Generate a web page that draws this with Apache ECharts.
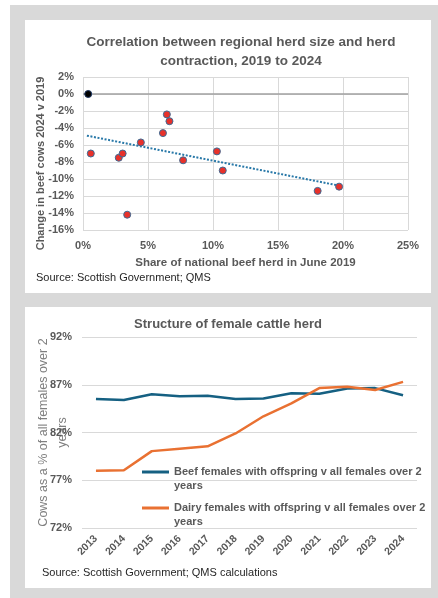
<!DOCTYPE html>
<html><head><meta charset="utf-8">
<script src="https://cdn.jsdelivr.net/npm/echarts@6/dist/echarts.min.js"></script>
<style>html,body{margin:0;padding:0;background:#fff}#c{width:438px;height:598px}</style>
</head><body><div id="c"></div>
<script>
// ---- Top chart data ----
const shareX = [0.6, 2.75, 3.05, 4.45, 3.4, 6.15, 6.45, 6.65, 7.7, 10.3, 10.75, 18.05, 19.7];
const changeY = [-7.0, -7.5, -7.0, -5.7, -14.2, -4.6, -2.4, -3.2, -7.8, -6.75, -9.0, -11.4, -10.9];
const nationalX = [0.4];
const nationalY = [0];
const trendX = [0.3, 19.6];
const trendY = [-4.9, -10.75];
// ---- Bottom chart data ----
const years = ['2013','2014','2015','2016','2017','2018','2019','2020','2021','2022','2023','2024'];
const beefShare = [85.5, 85.4, 86.0, 85.8, 85.85, 85.5, 85.55, 86.1, 86.05, 86.6, 86.65, 85.9];
const dairyShare = [78.0, 78.05, 80.05, 80.3, 80.55, 81.9, 83.7, 85.05, 86.65, 86.8, 86.45, 87.3];
const beefName = 'Beef females with offspring v all females over 2 years';
const dairyName = 'Dairy females with offspring v all females over 2 years';

const FONT = 'Liberation Sans';
const GRAY = '#595959';
const GRID = '#d9d9d9';
const zip = (a, b) => a.map((v, i) => [v, b[i]]);

const chart = echarts.init(document.getElementById('c'));
const legendBase = {
  orient: 'vertical', padding: 0, itemWidth: 27, itemHeight: 3, icon: 'rect',
  formatter: n => ' \n' + n.replace(' over 2 years', ' over 2\nyears'),
  textStyle: {fontFamily: FONT, fontWeight: 'bold', color: GRAY, fontSize: 11, lineHeight: 14}
};
chart.setOption({
  animation: false,
  textStyle: {fontFamily: FONT},
  graphic: [
    {type: 'rect', z: -100, silent: true, shape: {x: 10, y: 5, width: 428, height: 593}, style: {fill: '#d9d9d9'}},
    {type: 'rect', z: -99, silent: true, shape: {x: 25, y: 20, width: 406, height: 273}, style: {fill: '#ffffff'}},
    {type: 'rect', z: -99, silent: true, shape: {x: 25, y: 307, width: 406, height: 281}, style: {fill: '#ffffff'}}
  ],
  title: [
    {text: 'Correlation between regional herd size and herd\ncontraction, 2019 to 2024', left: 241, top: 33, textAlign: 'center', padding: 0,
     textStyle: {fontFamily: FONT, fontSize: 13.5, fontWeight: 'bold', color: GRAY, lineHeight: 19}},
    {text: 'Source: Scottish Government; QMS', left: 36, top: 272, padding: 0,
     textStyle: {fontFamily: FONT, fontSize: 11, fontWeight: 'normal', color: '#262626'}},
    {text: 'Structure of female cattle herd', left: 228, top: 318, textAlign: 'center', padding: 0,
     textStyle: {fontFamily: FONT, fontSize: 13, fontWeight: 'bold', color: GRAY}},
    {text: 'Source: Scottish Government; QMS calculations', left: 42, top: 567, padding: 0,
     textStyle: {fontFamily: FONT, fontSize: 11, fontWeight: 'normal', color: '#262626'}}
  ],
  legend: [
    Object.assign({}, legendBase, {data: [beefName], left: 142, top: 451}),
    Object.assign({}, legendBase, {data: [dairyName], left: 142, top: 487})
  ],
  grid: [
    {left: 83, right: 30, top: 77, bottom: 368},
    {left: 82, right: 21, top: 337, bottom: 70}
  ],
  xAxis: [
    {type: 'value', gridIndex: 0, min: 0, max: 25, interval: 5,
     name: 'Share of national beef herd in June 2019', nameLocation: 'middle', nameGap: 27, nameMoveOverlap: false,
     nameTextStyle: {fontFamily: FONT, fontWeight: 'bold', color: GRAY, fontSize: 11.5},
     axisLine: {show: false}, axisTick: {show: false},
     axisLabel: {formatter: '{value}%', fontWeight: 'bold', color: GRAY, fontSize: 11, margin: 10},
     splitLine: {show: true, lineStyle: {color: GRID, width: 1}}},
    {type: 'category', gridIndex: 1, data: years, boundaryGap: true,
     axisLine: {show: false}, axisTick: {show: false},
     axisLabel: {rotate: 45, fontWeight: 'bold', color: GRAY, fontSize: 10.5, margin: 9, interval: 0},
     splitLine: {show: false}}
  ],
  yAxis: [
    {type: 'value', gridIndex: 0, min: -16, max: 2, interval: 2,
     name: 'Change in beef cows 2024 v 2019', nameLocation: 'middle', nameGap: 37, nameMoveOverlap: false,
     nameTextStyle: {fontFamily: FONT, fontWeight: 'bold', color: GRAY, fontSize: 11, padding: [0, 20, 0, 0]},
     axisLine: {show: false}, axisTick: {show: false},
     axisLabel: {formatter: '{value}%', fontWeight: 'bold', color: GRAY, fontSize: 11, margin: 9},
     splitLine: {show: true, lineStyle: {color: GRID, width: 1}}},
    {type: 'value', gridIndex: 1, min: 72, max: 92, interval: 5,
     name: 'Cows as a % of all females over 2\nyears', nameLocation: 'middle', nameGap: 10, nameMoveOverlap: false,
     nameTextStyle: {fontFamily: FONT, fontWeight: 'normal', color: '#7f7f7f', fontSize: 12.5, lineHeight: 19},
     axisLine: {show: false}, axisTick: {show: false},
     axisLabel: {formatter: '{value}%', fontWeight: 'bold', color: GRAY, fontSize: 11, margin: 10},
     splitLine: {show: true, lineStyle: {color: GRID, width: 1}}}
  ],
  series: [
    {type: 'line', name: 'Trend', xAxisIndex: 0, yAxisIndex: 0, data: zip(trendX, trendY),
     showSymbol: false, symbol: 'none', lineStyle: {color: '#2878a8', width: 2, type: [2, 1.6]}, z: 3,
     markLine: {silent: true, symbol: 'none', label: {show: false}, animation: false,
       lineStyle: {color: '#a0a0a0', width: 1.5, type: 'solid'}, data: [{yAxis: 0}]}},
    {type: 'scatter', name: 'Regions', xAxisIndex: 0, yAxisIndex: 0, data: zip(shareX, changeY),
     symbolSize: 7, itemStyle: {color: '#e8312a', borderColor: '#3d6a94', borderWidth: 1, opacity: 1}, z: 4},
    {type: 'scatter', name: 'Scotland', xAxisIndex: 0, yAxisIndex: 0, data: zip(nationalX, nationalY),
     symbolSize: 7, itemStyle: {color: '#000000', borderColor: '#1f3864', borderWidth: 1, opacity: 1}, z: 5},
    {type: 'line', name: beefName, xAxisIndex: 1, yAxisIndex: 1, data: beefShare,
     symbol: 'none', showSymbol: false, lineStyle: {color: '#156082', width: 2.5}, itemStyle: {color: '#156082'}},
    {type: 'line', name: dairyName, xAxisIndex: 1, yAxisIndex: 1, data: dairyShare,
     symbol: 'none', showSymbol: false, lineStyle: {color: '#e97132', width: 2.5}, itemStyle: {color: '#e97132'}}
  ]
});
</script></body></html>
